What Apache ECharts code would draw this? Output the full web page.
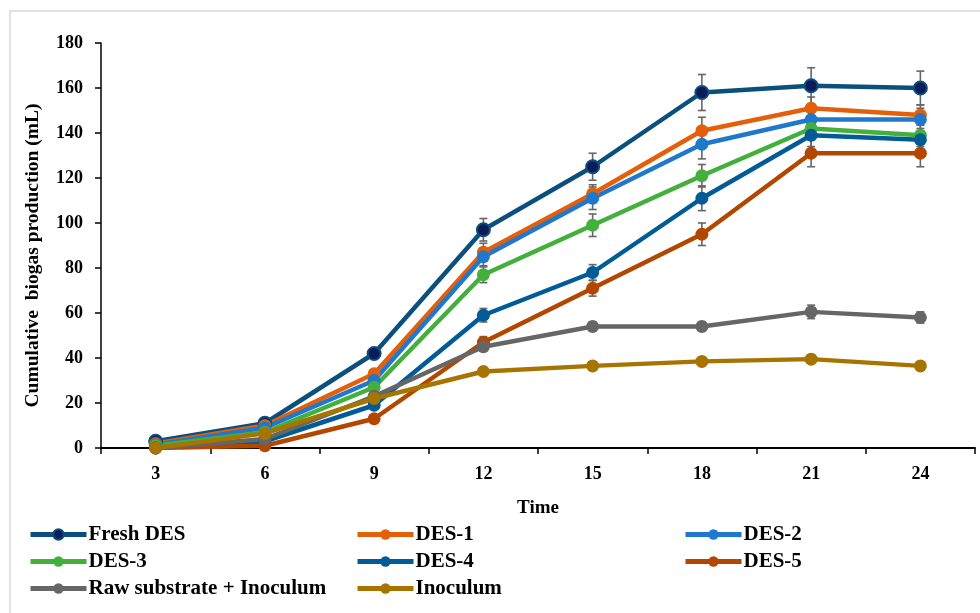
<!DOCTYPE html>
<html>
<head>
<meta charset="utf-8">
<script src="https://cdn.jsdelivr.net/npm/echarts@6/dist/echarts.min.js"></script>
<style>html,body{margin:0;padding:0;background:#fff}#c{width:980px;height:613px}</style>
</head>
<body>
<div id="c"></div>
<script>
var categories = ['3','6','9','12','15','18','21','24'];
var seriesNames = ['Fresh DES','DES-1','DES-2','DES-3','DES-4','DES-5','Raw substrate + Inoculum','Inoculum'];
var freshDES = [3, 11, 42, 97, 125, 158, 161, 160];
var des1 = [2, 10, 33, 87, 113, 141, 151, 148];
var des2 = [1.5, 9, 30, 85, 111, 135, 146, 146];
var des3 = [1, 7, 27, 77, 99, 121, 142, 139];
var des4 = [0, 3, 19, 59, 78, 111, 139, 137];
var des5 = [0, 1, 13, 47, 71, 95, 131, 131];
var rawSubstrate = [0, 4, 23, 45, 54, 54, 60.5, 58];
var inoculum = [0, 6.5, 22, 34, 36.5, 38.5, 39.5, 36.5];
var errFresh = [0.5, 0.5, 1, 5, 6, 8, 8, 7.5];
var errDes1 = [0.5, 0.5, 1, 4, 4, 6, 5, 4.5];
var errDes2 = [0.5, 0.5, 1, 4, 5, 6.5, 5, 5];
var errDes3 = [0.5, 0.5, 1, 3.5, 5, 5, 5, 5];
var errDes4 = [0, 0.5, 1, 3, 3.5, 5.5, 5, 5];
var errDes5 = [0, 0.5, 1, 2.5, 3.5, 5, 6, 6];
var errRaw = [0, 0.5, 1, 2, 2, 2, 3, 2.5];
var errInoc = [0, 0.5, 0.5, 1, 1, 1, 1, 1];
var yTicks = [0, 20, 40, 60, 80, 100, 120, 140, 160, 180];

var values = [freshDES, des1, des2, des3, des4, des5, rawSubstrate, inoculum];
var errors = [errFresh, errDes1, errDes2, errDes3, errDes4, errDes5, errRaw, errInoc];
var lineColors = ['#0b4f7c', '#e35f0a', '#1f78cc', '#44b03c', '#005b96', '#b34700', '#666666', '#a87400'];
var markerColors = ['#0d1b5a', '#e35f0a', '#1f78cc', '#44b03c', '#005b96', '#b34700', '#666666', '#a87400'];
var FONT = '"Liberation Serif", "Times New Roman", serif';

var chart = echarts.init(document.getElementById('c'), null, {renderer: 'canvas'});

var errData = [];
for (var s = 0; s < values.length; s++) {
  for (var i = 0; i < categories.length; i++) {
    errData.push([i, values[s][i] - errors[s][i], values[s][i] + errors[s][i]]);
  }
}

var series = [];
series.push({
  type: 'custom',
  name: 'err',
  z: 1,
  silent: true,
  data: errData,
  renderItem: function (params, api) {
    var x = api.value(0);
    var lo = api.coord([x, api.value(1)]);
    var hi = api.coord([x, api.value(2)]);
    var hw = 4;
    var st = {stroke: '#666666', lineWidth: 1.6};
    return {
      type: 'group',
      children: [
        {type: 'line', shape: {x1: lo[0], y1: lo[1], x2: hi[0], y2: hi[1]}, style: st},
        {type: 'line', shape: {x1: lo[0] - hw, y1: lo[1], x2: lo[0] + hw, y2: lo[1]}, style: st},
        {type: 'line', shape: {x1: hi[0] - hw, y1: hi[1], x2: hi[0] + hw, y2: hi[1]}, style: st}
      ]
    };
  }
});
for (var k = 0; k < values.length; k++) {
  series.push({
    type: 'line',
    name: seriesNames[k],
    z: 2,
    data: values[k],
    symbol: 'circle',
    symbolSize: 13,
    lineStyle: {color: lineColors[k], width: 4.5},
    itemStyle: {color: markerColors[k], borderColor: lineColors[k], borderWidth: k === 0 ? 2 : 0},
    emphasis: {disabled: true},
    animation: false
  });
}

var legendLefts = [28, 355, 683];
var legendTops = [524, 551, 578];
var legends = [];
for (var n = 0; n < seriesNames.length; n++) {
  legends.push({
    data: [seriesNames[n]],
    left: legendLefts[n % 3],
    top: legendTops[Math.floor(n / 3)],
    padding: 0,
    itemWidth: 56,
    itemHeight: 13,
    itemGap: 0,
    lineStyle: {width: 5},
    textStyle: {fontFamily: FONT, fontWeight: 'bold', fontSize: 21, color: '#000', padding: [0, 0, 0, -3]},
    selectedMode: false
  });
}

chart.setOption({
  animation: false,
  backgroundColor: '#ffffff',
  graphic: [{
    type: 'rect',
    shape: {x: 10, y: 11, width: 1000, height: 700},
    style: {fill: 'none', stroke: '#d9d9d9', lineWidth: 1.5},
    silent: true
  }],
  grid: {left: 101, right: 5, top: 43, bottom: 165, containLabel: false},
  legend: legends,
  xAxis: {
    type: 'category',
    data: categories,
    boundaryGap: true,
    name: 'Time',
    nameLocation: 'middle',
    nameGap: 51,
    nameTextStyle: {fontFamily: FONT, fontWeight: 'bold', fontSize: 19, color: '#000'},
    axisLine: {lineStyle: {color: '#000', width: 2}},
    axisTick: {show: true, inside: false, length: 6, alignWithLabel: false, lineStyle: {color: '#000', width: 1.5}},
    axisLabel: {fontFamily: FONT, fontWeight: 'bold', fontSize: 18, color: '#000', margin: 17},
    splitLine: {show: false}
  },
  yAxis: {
    type: 'value',
    min: yTicks[0],
    max: yTicks[yTicks.length - 1],
    interval: 20,
    name: 'Cumulative  biogas production (mL)',
    nameLocation: 'middle',
    nameGap: 58,
    nameTextStyle: {fontFamily: FONT, fontWeight: 'bold', fontSize: 19.5, color: '#000', padding: [0, 20, 0, 0]},
    axisLine: {show: true, lineStyle: {color: '#000', width: 1.5}},
    axisTick: {show: true, inside: false, length: 6, lineStyle: {color: '#000', width: 1.5}},
    axisLabel: {fontFamily: FONT, fontWeight: 'bold', fontSize: 18, color: '#000', margin: 18},
    splitLine: {show: false}
  },
  series: series
});
</script>
</body>
</html>
